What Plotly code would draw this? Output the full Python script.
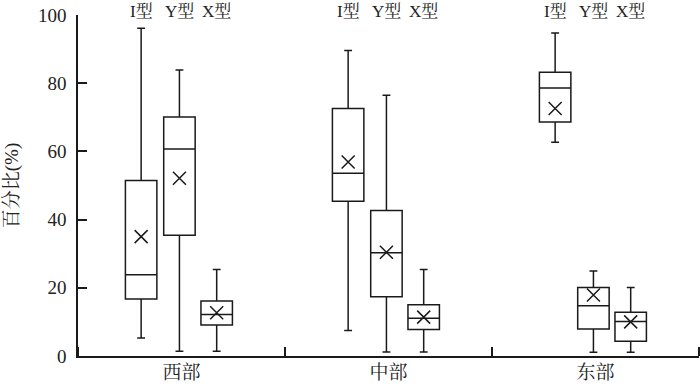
import plotly.graph_objects as go

# regions along x, box types within each region
regions = ["西部", "中部", "东部"]
types = ["I型", "Y型", "X型"]

# box statistics (%), one list per type, ordered by region
upper = {"I型": [96.1, 89.6, 94.7], "Y型": [83.9, 76.5, 24.9], "X型": [25.4, 25.4, 20.1]}
q3 = {"I型": [51.5, 72.6, 83.2], "Y型": [70.1, 42.7, 20.1], "X型": [16.1, 15.0, 12.8]}
median = {"I型": [23.8, 53.6, 78.6], "Y型": [60.7, 30.3, 14.7], "X型": [12.2, 11.1, 10.1]}
q1 = {"I型": [16.7, 45.4, 68.6], "Y型": [35.4, 17.4, 7.9], "X型": [9.1, 7.8, 4.3]}
lower = {"I型": [5.3, 7.5, 62.7], "Y型": [1.4, 1.2, 1.1], "X型": [1.4, 1.2, 1.1]}
mean = {"I型": [35.0, 56.9, 72.6], "Y型": [52.1, 30.4, 17.9], "X型": [12.7, 11.4, 10.0]}

# position of each type inside a region slot
offsets = {"I型": -0.195, "Y型": -0.01, "X型": 0.17}

serif = "Liberation Serif, Noto Serif CJK SC, Noto Sans CJK SC, serif"
ink = "#1a1a1a"
txt = "#222222"

fig = go.Figure()
for t in types:
    xs = [i + offsets[t] for i in range(len(regions))]
    fig.add_trace(go.Box(
        x=xs, q1=q1[t], median=median[t], q3=q3[t],
        lowerfence=lower[t], upperfence=upper[t],
        width=0.152, whiskerwidth=0.25, boxpoints=False,
        line=dict(color=ink, width=1.5), fillcolor="rgba(0,0,0,0)",
        name=t, showlegend=False, hoverinfo="skip"))
    fig.add_trace(go.Scatter(
        x=xs, y=mean[t], mode="markers", showlegend=False,
        marker=dict(symbol="x-thin", size=13, line=dict(color=ink, width=1.5))))
    # type label above each box
    for x in xs:
        fig.add_annotation(x=x, xref="x", y=1, yref="paper", yshift=4, text=t,
                           showarrow=False, yanchor="middle",
                           font=dict(family=serif, size=17, color=txt))

fig.update_layout(
    width=700, height=391, plot_bgcolor="white", paper_bgcolor="white",
    margin=dict(l=78, r=1, t=15, b=35),
    font=dict(family=serif, color=txt),
    xaxis=dict(range=[-0.5, 2.5], tickvals=[0, 1, 2], ticktext=regions, ticks="",
               showline=True, linecolor=ink, linewidth=1.5, showgrid=False, zeroline=False,
               tickfont=dict(size=19, color=txt), ticklabelstandoff=-2,
               minor=dict(tickvals=[-0.5, 0.5, 1.5, 2.5], ticks="inside", ticklen=9,
                          tickcolor=ink, tickwidth=1.5, showgrid=False)),
    yaxis=dict(range=[0, 100], tickvals=[0, 20, 40, 60, 80, 100], ticks="inside", ticklen=9,
               tickwidth=1.5, tickcolor=ink, showline=True, linecolor=ink, linewidth=1.5,
               showgrid=False, zeroline=False, tickfont=dict(size=19, color=txt),
               ticklabelstandoff=6,
               title=dict(text="百分比(%)", font=dict(size=19, color=txt), standoff=14)),
)

# drop the browser's default body margin so the figure fills the window
fig.write_html("out.html", config={"displayModeBar": False},
               post_script="document.body.style.margin='0';")
